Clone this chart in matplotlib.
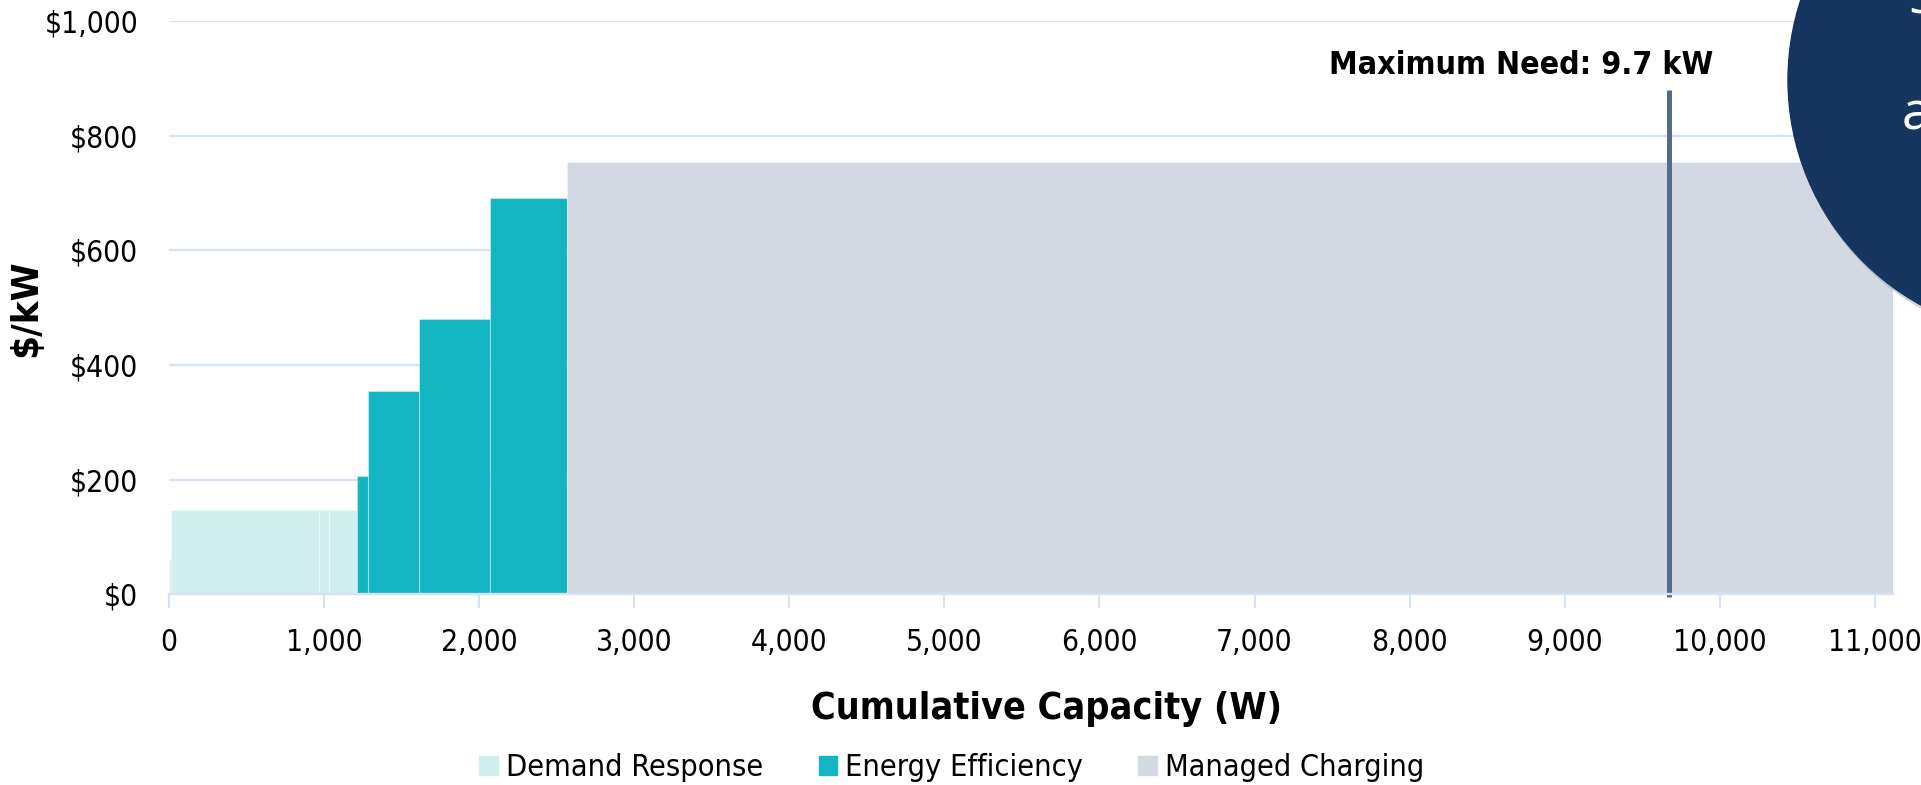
import matplotlib.pyplot as plt
import matplotlib.patches as mpatches
from matplotlib.transforms import IdentityTransform
import numpy as np

plt.rcParams['font.family'] = ['DejaVu Sans']
plt.rcParams['font.stretch'] = 'condensed'

# capacity (W) and cost ($/kW) of each resource block, in supply-curve order
dr_capacity = [15, 955, 65, 176]
dr_cost = [62, 147, 147, 147]
ee_capacity = [75, 329, 456, 496]
ee_cost = [207, 354, 481, 692]
mc_capacity = [8548]
mc_cost = [755]

max_need_kw = 9.67

groups = [
    ('Demand Response', dr_capacity, dr_cost, '#d3f0f1'),
    ('Energy Efficiency', ee_capacity, ee_cost, '#13b5c2'),
    ('Managed Charging', mc_capacity, mc_cost, '#d2d9e2'),
]

grid_col = '#d5e3f5'

fig = plt.figure(figsize=(19.21, 7.85), dpi=100)
ax = fig.add_axes([0.0879, 0.2429, 0.8974, 0.7300])

start = 0
handles = []
for name, cap, cost, col in groups:
    lefts = start + np.concatenate([[0], np.cumsum(cap)[:-1]])
    ax.bar(lefts, cost, width=cap, align='edge', color=col,
           edgecolor=(1, 1, 1, 0.35), linewidth=0.8, zorder=2)
    start += sum(cap)
    handles.append(mpatches.Patch(color=col, label=name))

total = start
ax.set_xlim(0, total)
ax.set_ylim(0, 1000)

# maximum need marker
need_w = max_need_kw * 1000
ax.vlines(need_w, -4, 880, color='#546b8c', linewidth=3.6, zorder=3, clip_on=False)
ax.annotate('Maximum Need: %.1f kW' % max_need_kw, xy=(need_w, 922),
            xytext=(45, 0), textcoords='offset pixels', ha='right', va='center',
            fontsize=23, fontweight='bold', zorder=4)

ax.set_xticks(np.arange(0, 11001, 1000))
ax.set_xticklabels(['{:,}'.format(v) for v in range(0, 11001, 1000)])
ax.set_yticks(np.arange(0, 1001, 200))
ax.set_yticklabels(['${:,}'.format(v) for v in range(0, 1001, 200)])

ax.grid(axis='y', color=grid_col, linewidth=1.7, zorder=0)
ax.set_axisbelow(True)
for s in ['top', 'right', 'left']:
    ax.spines[s].set_visible(False)
ax.spines['bottom'].set_color(grid_col)
ax.spines['bottom'].set_linewidth(1.7)
ax.spines['bottom'].set_zorder(5)

ax.tick_params(axis='x', length=10, width=1.5, color=grid_col, labelsize=21.5, pad=14)
ax.tick_params(axis='y', length=0, labelsize=21.5, pad=22)

ax.set_xlabel('Cumulative Capacity (W)', fontsize=27, fontweight='bold')
ax.set_ylabel('$/kW', fontsize=27.5, fontweight='bold')
ax.xaxis.set_label_coords(0.509, -0.168)
ax.yaxis.set_label_coords(-0.072, 0.5)

fig.legend(handles=handles, loc='center', bbox_to_anchor=(952 / 1921, 1 - 768 / 785),
           ncol=3, frameon=False, fontsize=22, handlelength=0.6, handleheight=0.6,
           handletextpad=0.28, columnspacing=1.8)

# callout bubble on the right edge
shadow = mpatches.Circle((2047, 785 - 84), 257, transform=IdentityTransform(),
                         color='#9aa3ad', alpha=0.35, zorder=9)
bubble = mpatches.Circle((2045, 785 - 80), 257, transform=IdentityTransform(),
                         color='#16365f', zorder=10)
fig.add_artist(shadow)
fig.add_artist(bubble)
fig.text(1902 / 1921, 1 - 130 / 785, 'a', color='white', fontsize=38,
         family='Open Sans', fontstretch='normal', ha='left', va='baseline', zorder=11)
fig.text(1908 / 1921, 1 - 13 / 785, 'S', color='white', fontsize=38,
         family='Open Sans', fontstretch='normal', ha='left', va='baseline', zorder=11)

fig.savefig('out.png', dpi=100)
